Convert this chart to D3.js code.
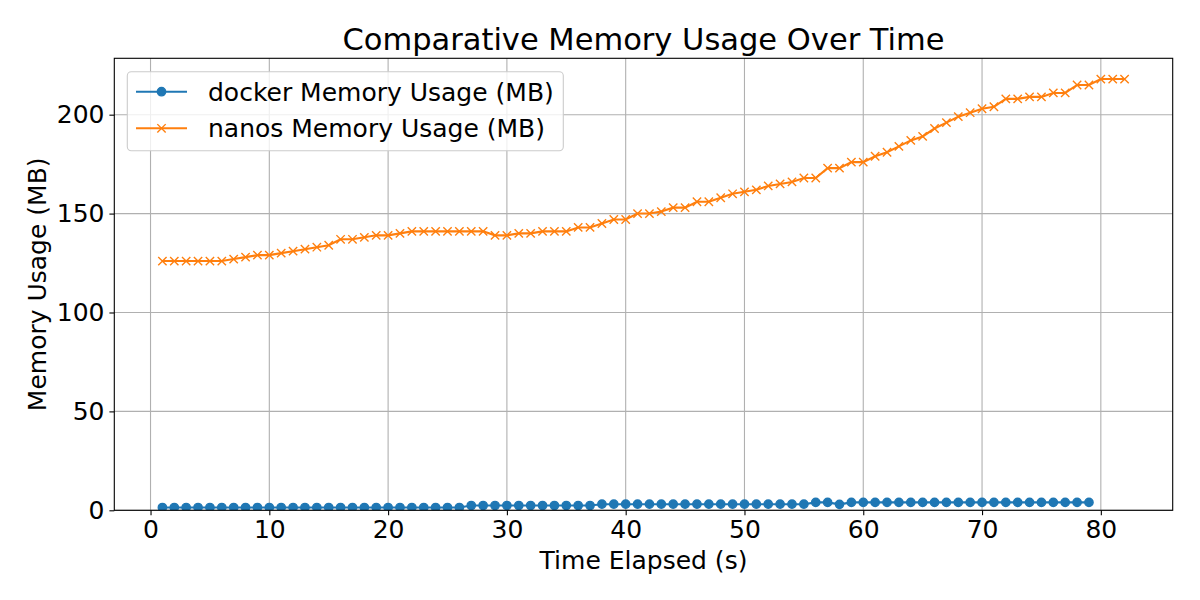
<!DOCTYPE html>
<html>
<head>
<meta charset="utf-8">
<script src="https://cdn.jsdelivr.net/npm/d3@7"></script>
<style>
  body { margin: 0; background: #fff; }
  text { font-family: "DejaVu Sans", sans-serif; fill: #000; }
</style>
</head>
<body>
<div id="chart"></div>
<script>
/* DATA */
const dockerTime = [1,2,3,4,5,6,7,8,9,10,11,12,13,14,15,16,17,18,19,20,21,22,23,24,25,26,27,28,29,30,
  31,32,33,34,35,36,37,38,39,40,41,42,43,44,45,46,47,48,49,50,51,52,53,54,55,56,57,58,59,60,
  61,62,63,64,65,66,67,68,69,70,71,72,73,74,75,76,77,78,79];
const dockerMem = [1.4,1.4,1.4,1.4,1.4,1.4,1.4,1.4,1.4,1.4,1.4,1.4,1.4,1.4,1.4,1.4,1.4,1.4,1.4,1.4,
  1.4,1.4,1.4,1.4,1.4,1.4,2.4,2.4,2.4,2.4,2.4,2.4,2.4,2.4,2.4,2.4,2.4,3.1,3.1,3.1,
  3.1,3.1,3.1,3.1,3.1,3.1,3.1,3.1,3.1,3.1,3.1,3.1,3.1,3.1,3.1,4.0,4.0,3.0,4.0,4.0,
  4.0,4.0,4.0,4.0,4.0,4.0,4.0,4.0,4.0,4.0,4.0,4.0,4.0,4.0,4.0,4.0,4.0,4.0,4.0];

const nanosTime = [1,2,3,4,5,6,7,8,9,10,11,12,13,14,15,16,17,18,19,20,21,22,23,24,25,26,27,28,29,30,
  31,32,33,34,35,36,37,38,39,40,41,42,43,44,45,46,47,48,49,50,51,52,53,54,55,56,57,58,59,60,
  61,62,63,64,65,66,67,68,69,70,71,72,73,74,75,76,77,78,79,80,81,82];
const nanosMem = [126,126,126,126,126,126,127,128,129,129,130,131,132,133,134,137,137,138,139,139,
  140,141,141,141,141,141,141,141,139,139,140,140,141,141,141,143,143,145,147,147,
  150,150,151,153,153,156,156,158,160,161,162,164,165,166,168,168,173,173,176,176,
  179,181,184,187,189,193,196,199,201,203,204,208,208,209,209,211,211,215,215,218,218,218];

const xTicks = [0,10,20,30,40,50,60,70,80];
const yTicks = [0,50,100,150,200];

const seriesNames = ["docker Memory Usage (MB)", "nanos Memory Usage (MB)"];
const colors = ["#1f77b4", "#ff7f0e"];

/* LAYOUT */
const width = 1200, height = 600;
const margin = { top: 58.3, right: 1200 - 1172.7, bottom: 600 - 510.3, left: 114.3 };
const fontSize = "25px";

const svg = d3.select("#chart").append("svg")
  .attr("width", width)
  .attr("height", height);

// scales
const xScale = d3.scaleLinear()
  .domain([-3.05, 86.05])
  .range([margin.left, width - margin.right]);

const yScale = d3.scaleLinear()
  .domain([0, 228.5])
  .range([height - margin.bottom, margin.top]);

// clip for the plot area
svg.append("clipPath").attr("id", "plotclip")
  .append("rect")
  .attr("x", margin.left).attr("y", margin.top)
  .attr("width", width - margin.left - margin.right)
  .attr("height", height - margin.top - margin.bottom);

// grid
const grid = svg.append("g").attr("class", "grid");
grid.selectAll(".vgrid")
  .data(xTicks)
  .join("line")
  .attr("x1", d => xScale(d)).attr("x2", d => xScale(d))
  .attr("y1", margin.top).attr("y2", height - margin.bottom)
  .attr("stroke", "#b0b0b0").attr("stroke-width", 1.1);
grid.selectAll(".hgrid")
  .data(yTicks)
  .join("line")
  .attr("y1", d => yScale(d)).attr("y2", d => yScale(d))
  .attr("x1", margin.left).attr("x2", width - margin.right)
  .attr("stroke", "#b0b0b0").attr("stroke-width", 1.1);

// lines
const plot = svg.append("g").attr("clip-path", "url(#plotclip)");

const docker = dockerTime.map((t, i) => ({ t: t, v: dockerMem[i] }));
const nanos = nanosTime.map((t, i) => ({ t: t, v: nanosMem[i] }));

const line = d3.line()
  .x(d => xScale(d.t))
  .y(d => yScale(d.v));

plot.append("path")
  .datum(docker)
  .attr("d", line)
  .attr("fill", "none")
  .attr("stroke", colors[0])
  .attr("stroke-width", 2.08);

plot.selectAll(".dot")
  .data(docker)
  .join("circle")
  .attr("cx", d => xScale(d.t))
  .attr("cy", d => yScale(d.v))
  .attr("r", 4.17)
  .attr("fill", colors[0])
  .attr("stroke", colors[0])
  .attr("stroke-width", 1.39);

plot.append("path")
  .datum(nanos)
  .attr("d", line)
  .attr("fill", "none")
  .attr("stroke", colors[1])
  .attr("stroke-width", 2.08);

const xs = 4.17;
function xMark(sel) {
  sel.append("path")
    .attr("d", `M${-xs},${-xs}L${xs},${xs}M${-xs},${xs}L${xs},${-xs}`)
    .attr("stroke", colors[1])
    .attr("stroke-width", 1.39)
    .attr("fill", "none");
}
plot.selectAll(".xmark")
  .data(nanos)
  .join("g")
  .attr("transform", d => `translate(${xScale(d.t)},${yScale(d.v)})`)
  .call(xMark);

// axes
const xAxis = d3.axisBottom(xScale).tickValues(xTicks).tickSize(4.9).tickPadding(4.9);
const yAxis = d3.axisLeft(yScale).tickValues(yTicks).tickSize(4.9).tickPadding(4.9);

const xg = svg.append("g")
  .attr("transform", `translate(0,${height - margin.bottom})`)
  .call(xAxis);
const yg = svg.append("g")
  .attr("transform", `translate(${margin.left},0)`)
  .call(yAxis);

[xg, yg].forEach(g => {
  g.select(".domain").remove();
  g.selectAll(".tick line").attr("stroke", "#000").attr("stroke-width", 1.1);
  g.selectAll(".tick text")
    .style("font-family", "DejaVu Sans")
    .style("font-size", fontSize)
    .attr("fill", "#000");
});

// spines
svg.append("rect")
  .attr("x", margin.left).attr("y", margin.top)
  .attr("width", width - margin.left - margin.right)
  .attr("height", height - margin.top - margin.bottom)
  .attr("fill", "none")
  .attr("stroke", "#000")
  .attr("stroke-width", 1.1);

// labels
svg.append("text")
  .attr("x", (margin.left + width - margin.right) / 2)
  .attr("y", 50)
  .attr("text-anchor", "middle")
  .style("font-size", "30.5px")
  .text("Comparative Memory Usage Over Time");

svg.append("text")
  .attr("x", (margin.left + width - margin.right) / 2)
  .attr("y", 569)
  .attr("text-anchor", "middle")
  .style("font-size", fontSize)
  .text("Time Elapsed (s)");

svg.append("text")
  .attr("transform", `translate(46,${(margin.top + height - margin.bottom) / 2}) rotate(-90)`)
  .attr("text-anchor", "middle")
  .style("font-size", fontSize)
  .text("Memory Usage (MB)");

// legend
const legend = svg.append("g");
legend.append("rect")
  .attr("x", 127.3).attr("y", 71.7)
  .attr("width", 436).attr("height", 79)
  .attr("rx", 4).attr("ry", 4)
  .attr("fill", "#fff").attr("fill-opacity", 0.8)
  .attr("stroke", "#cccccc").attr("stroke-width", 1.1);

const rows = legend.selectAll(".row")
  .data(seriesNames)
  .join("g")
  .attr("transform", (d, i) => `translate(0,${91.7 + i * 36.6})`);

rows.append("line")
  .attr("x1", 136).attr("x2", 187)
  .attr("stroke", (d, i) => colors[i])
  .attr("stroke-width", 2.08);

rows.filter((d, i) => i === 0).append("circle")
  .attr("cx", 161.5).attr("r", 4.17).attr("fill", colors[0])
  .attr("stroke", colors[0]).attr("stroke-width", 1.39);
rows.filter((d, i) => i === 1).append("g")
  .attr("transform", "translate(161.5,0)")
  .call(xMark);

rows.append("text")
  .attr("x", 208)
  .attr("dy", "0.36em")
  .style("font-size", fontSize)
  .text(d => d);
</script>
</body>
</html>
